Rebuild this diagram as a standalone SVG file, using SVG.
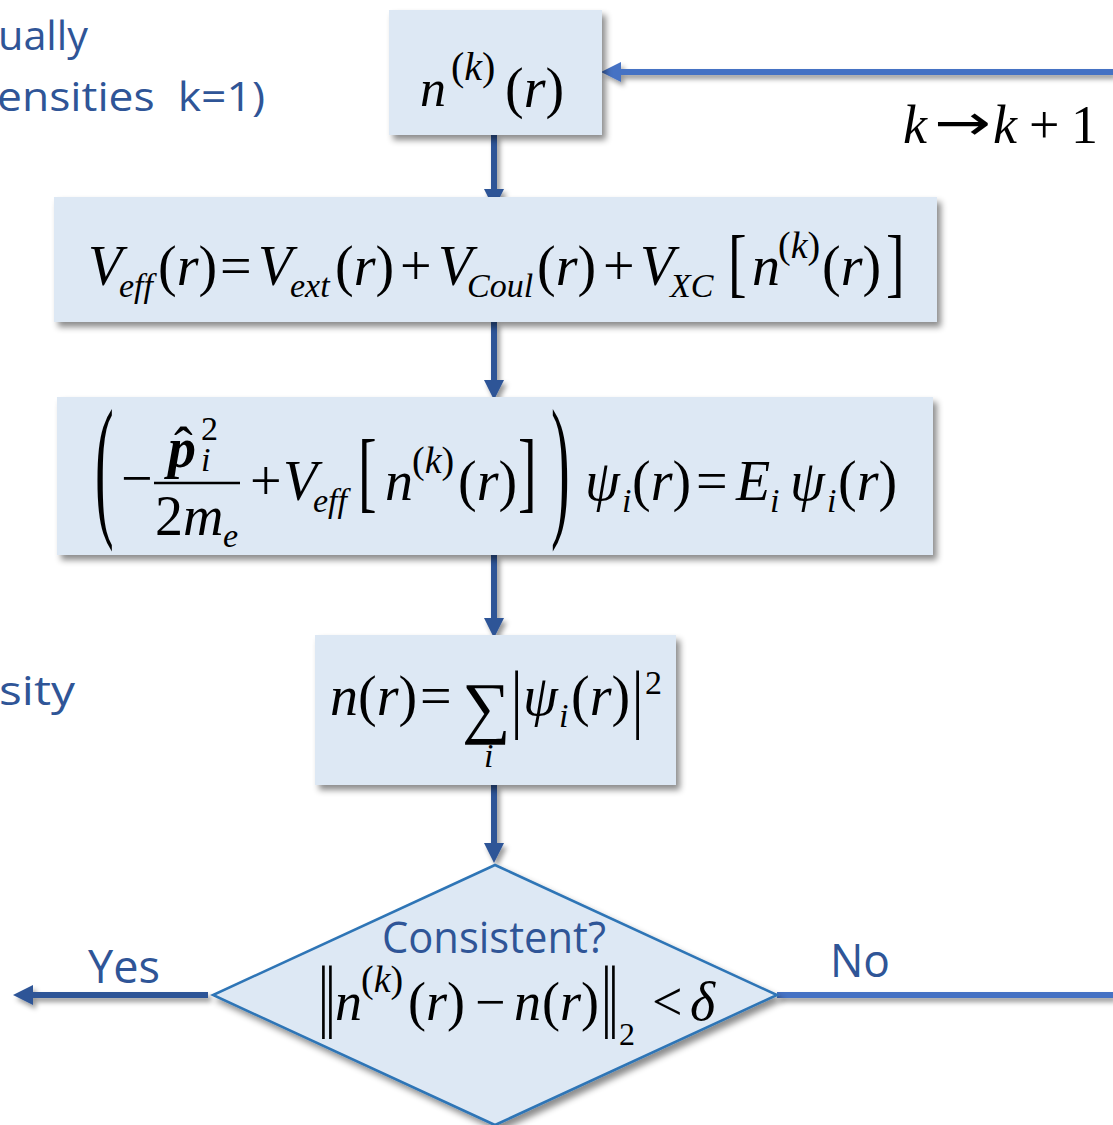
<svg xmlns="http://www.w3.org/2000/svg" width="1113" height="1125" viewBox="0 0 1113 1125">
<defs>
<style>
.box{fill:#dde8f4;}
.m{font-family:"Liberation Serif","Times New Roman",serif;fill:#000;}
.i{font-style:italic;}
.b{font-weight:bold;}
.arr{font-family:"DejaVu Sans",sans-serif;fill:#000;}
.lbl{font-family:"Open Sans","Liberation Sans",sans-serif;fill:#2f5597;}
.dk{stroke:#2f5597;stroke-width:6;fill:none;}
.lt{stroke:#4472c4;stroke-width:6;fill:none;}
</style>
<filter id="sh" x="-10%" y="-10%" width="130%" height="140%">
<feDropShadow dx="4" dy="5" stdDeviation="3" flood-color="#000" flood-opacity="0.45"/>
</filter>
<filter id="shl" filterUnits="userSpaceOnUse" x="0" y="0" width="1113" height="1125">
<feDropShadow dx="3" dy="4" stdDeviation="2.5" flood-color="#000" flood-opacity="0.4"/>
</filter>
<marker id="ahd" viewBox="0 0 10 10" refX="0" refY="5" markerWidth="20" markerHeight="20" markerUnits="userSpaceOnUse" orient="auto"><path d="M0,0 L10,5 L0,10 z" fill="#2f5597"/></marker>
<marker id="ahl" viewBox="0 0 10 10" refX="0" refY="5" markerWidth="20" markerHeight="20" markerUnits="userSpaceOnUse" orient="auto"><path d="M0,0 L10,5 L0,10 z" fill="#4472c4"/></marker>
</defs>
<rect width="1113" height="1125" fill="#fff"/>

<!-- side labels -->
<text class="lbl" x="-2" y="50" font-size="40" textLength="90" lengthAdjust="spacingAndGlyphs">ually</text>
<text class="lbl" x="-3" y="111" font-size="40" textLength="268" lengthAdjust="spacingAndGlyphs" xml:space="preserve">ensities  k=1)</text>
<text class="lbl" x="-1" y="705" font-size="40" textLength="76" lengthAdjust="spacingAndGlyphs">sity</text>

<!-- connectors -->
<g id="connectors">
<line class="dk" x1="494" y1="135" x2="494" y2="189" marker-end="url(#ahd)" filter="url(#shl)"/>
<line class="dk" x1="494" y1="322" x2="494" y2="380" marker-end="url(#ahd)" filter="url(#shl)"/>
<line class="dk" x1="494" y1="555" x2="494" y2="618" marker-end="url(#ahd)" filter="url(#shl)"/>
<line class="dk" x1="494" y1="785" x2="494" y2="843" marker-end="url(#ahd)" filter="url(#shl)"/>
<line class="dk" x1="208" y1="995" x2="33" y2="995" marker-end="url(#ahd)" filter="url(#shl)"/>
<line class="lt" x1="777" y1="995" x2="1113" y2="995" filter="url(#shl)"/>
<line class="lt" x1="1113" y1="72" x2="621" y2="72" marker-end="url(#ahl)" filter="url(#shl)"/>
<text class="lbl" x="88" y="983" font-size="46" textLength="72" lengthAdjust="spacingAndGlyphs">Yes</text>
<text class="lbl" x="830" y="977" font-size="46" textLength="60" lengthAdjust="spacingAndGlyphs">No</text>
<g font-size="54">
<text x="903" y="143" class="m i">k</text>
<text x="934" y="140" class="arr" font-size="50" textLength="57" lengthAdjust="spacingAndGlyphs">→</text>
<text x="993" y="143" class="m i">k</text>
<text x="1029" y="143" class="m">+</text>
<text x="1071" y="143" class="m">1</text>
</g>
</g>

<!-- node: n^(k)(r) -->
<g id="node-nk">
<rect class="box" x="389" y="10" width="213" height="125" filter="url(#sh)"/>
<text class="m i" x="420" y="106" font-size="52">n</text>
<text class="m" x="451" y="80" font-size="40">(<tspan class="i">k</tspan>)</text>
<text class="m" x="505" y="107" font-size="56">(<tspan class="i">r</tspan>)</text>
</g>

<!-- node: V_eff -->
<g id="node-veff">
<rect class="box" x="54" y="197" width="883" height="125" filter="url(#sh)"/>
<g class="m" font-size="56">
<text class="m i" x="88" y="285">V</text>
<text class="m i" x="119" y="297" font-size="34">eff</text>
<text class="m" x="158" y="285">(<tspan class="i">r</tspan>)</text>
<text class="m" x="220" y="285">=</text>
<text class="m i" x="258" y="285">V</text>
<text class="m i" x="290" y="297" font-size="34">ext</text>
<text class="m" x="335" y="285">(<tspan class="i">r</tspan>)</text>
<text class="m" x="400" y="285">+</text>
<text class="m i" x="438" y="285">V</text>
<text class="m i" x="467" y="297" font-size="34">Coul</text>
<text class="m" x="537" y="285">(<tspan class="i">r</tspan>)</text>
<text class="m" x="603" y="285">+</text>
<text class="m i" x="640" y="285">V</text>
<text class="m i" x="670" y="297" font-size="34">XC</text>
<text class="m" transform="translate(728,288) scale(1,1.37)">[</text>
<text class="m i" x="752" y="285">n</text>
<text class="m" x="778" y="258" font-size="38">(<tspan class="i">k</tspan>)</text>
<text class="m" x="822" y="285">(<tspan class="i">r</tspan>)</text>
<text class="m" transform="translate(886,288) scale(1,1.37)">]</text>
</g>
</g>

<!-- node: Kohn-Sham equation -->
<g id="node-ks">
<rect class="box" x="57" y="397" width="876" height="158" filter="url(#sh)"/>
<g class="m" font-size="56">
<text class="m" transform="translate(95,518) scale(1,2.8)">(</text>
<text class="m" x="121" y="497">−</text>
<text class="m" x="174" y="466" font-size="56">ˆ</text>
<text class="m i b" x="168" y="467">p</text>
<text class="m" x="201" y="440" font-size="34">2</text>
<text class="m i" x="201" y="471" font-size="34">i</text>
<line x1="154" y1="483" x2="240" y2="483" stroke="#000" stroke-width="2.5"/>
<text class="m" x="155" y="535">2<tspan class="i">m</tspan></text>
<text class="m i" x="223" y="547" font-size="34">e</text>
<text class="m" x="250" y="500">+</text>
<text class="m i" x="283" y="500">V</text>
<text class="m i" x="313" y="512" font-size="34">eff</text>
<text class="m" transform="translate(358,501) scale(1,1.57)">[</text>
<text class="m i" x="385" y="500">n</text>
<text class="m" x="412" y="473" font-size="38">(<tspan class="i">k</tspan>)</text>
<text class="m" x="458" y="500">(<tspan class="i">r</tspan>)</text>
<text class="m" transform="translate(518,501) scale(1,1.57)">]</text>
<text class="m" transform="translate(551,518) scale(1,2.8)">)</text>
<text class="m i" x="585" y="500">ψ</text>
<text class="m i" x="622" y="512" font-size="34">i</text>
<text class="m" x="632" y="500">(<tspan class="i">r</tspan>)</text>
<text class="m" x="696" y="500">=</text>
<text class="m i" x="736" y="500">E</text>
<text class="m i" x="770" y="512" font-size="34">i</text>
<text class="m i" x="790" y="500">ψ</text>
<text class="m i" x="827" y="512" font-size="34">i</text>
<text class="m" x="838" y="500">(<tspan class="i">r</tspan>)</text>
</g>
</g>

<!-- node: density -->
<g id="node-density">
<rect class="box" x="315" y="635" width="361" height="150" filter="url(#sh)"/>
<g class="m" font-size="56">
<text class="m i" x="330" y="715">n</text>
<text class="m" x="358" y="715">(<tspan class="i">r</tspan>)</text>
<text class="m" x="420" y="715">=</text>
<text class="m" x="462" y="730" font-size="68">∑</text>
<text class="m i" x="484" y="767" font-size="34">i</text>
<text class="m" transform="translate(511,724) scale(1,1.36)">|</text>
<text class="m i" x="523" y="715">ψ</text>
<text class="m i" x="559" y="727" font-size="34">i</text>
<text class="m" x="571" y="715">(<tspan class="i">r</tspan>)</text>
<text class="m" transform="translate(632,724) scale(1,1.36)">|</text>
<text class="m" x="645" y="694" font-size="34">2</text>
</g>
</g>

<!-- node: decision -->
<g id="node-decision">
<polygon points="495,865 777,995 495,1125 213,995" fill="#dde8f4" stroke="#2e75b6" stroke-width="2.5" filter="url(#sh)"/>
<text class="lbl" x="382" y="953" font-size="44" textLength="224" lengthAdjust="spacingAndGlyphs">Consistent?</text>
<g class="m" font-size="54">
<text class="m" transform="translate(318,1022) scale(1,1.5)">|</text>
<text class="m" transform="translate(325,1022) scale(1,1.5)">|</text>
<text class="m i" x="335" y="1020">n</text>
<text class="m" x="361" y="992" font-size="38">(<tspan class="i">k</tspan>)</text>
<text class="m" x="408" y="1020">(<tspan class="i">r</tspan>)</text>
<text class="m" x="475" y="1020">−</text>
<text class="m i" x="514" y="1020">n</text>
<text class="m" x="542" y="1020">(<tspan class="i">r</tspan>)</text>
<text class="m" transform="translate(601,1022) scale(1,1.5)">|</text>
<text class="m" transform="translate(608,1022) scale(1,1.5)">|</text>
<text class="m" x="619" y="1045" font-size="32">2</text>
<text class="m" x="652" y="1020">&lt;</text>
<text class="m i" x="690" y="1020">δ</text>
</g>
</g>
</svg>
